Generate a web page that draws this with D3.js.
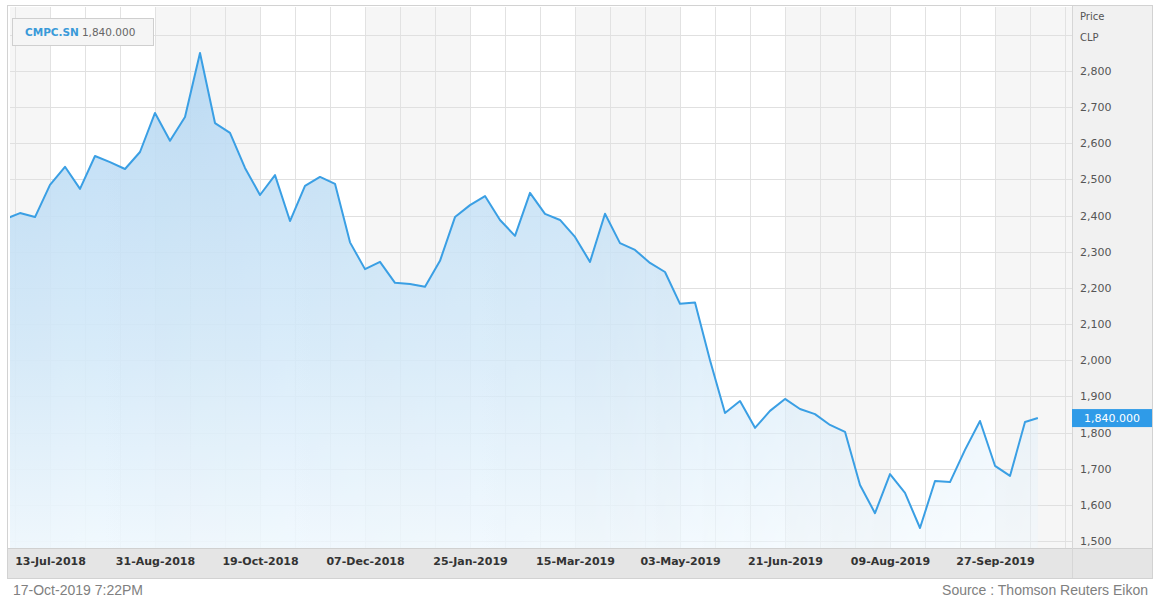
<!DOCTYPE html>
<html>
<head>
<meta charset="utf-8">
<script src="https://cdn.jsdelivr.net/npm/d3@7"></script>
<style>
  body { margin: 0; background: #fff; }
  svg { display: block; }
</style>
</head>
<body>
<svg id="chart"></svg>
<script>
// weekly closes, CMPC.SN (CLP)
const dates = [
  "2018-06-22","2018-06-29","2018-07-06","2018-07-13","2018-07-20","2018-07-27",
  "2018-08-03","2018-08-10","2018-08-17","2018-08-24","2018-08-31","2018-09-07",
  "2018-09-14","2018-09-21","2018-09-28","2018-10-05","2018-10-12","2018-10-19",
  "2018-10-26","2018-11-02","2018-11-09","2018-11-16","2018-11-23","2018-11-30",
  "2018-12-07","2018-12-14","2018-12-21","2018-12-28","2019-01-04","2019-01-11",
  "2019-01-18","2019-01-25","2019-02-01","2019-02-08","2019-02-15","2019-02-22",
  "2019-03-01","2019-03-08","2019-03-15","2019-03-22","2019-03-29","2019-04-05",
  "2019-04-12","2019-04-19","2019-04-26","2019-05-03","2019-05-10","2019-05-17",
  "2019-05-24","2019-05-31","2019-06-07","2019-06-14","2019-06-21","2019-06-28",
  "2019-07-05","2019-07-12","2019-07-19","2019-07-26","2019-08-02","2019-08-09",
  "2019-08-16","2019-08-23","2019-08-30","2019-09-06","2019-09-13","2019-09-20",
  "2019-09-27","2019-10-04","2019-10-11","2019-10-17"
];
const prices = [
  2390, 2407, 2396, 2485, 2535, 2474,
  2565, 2548, 2529, 2576, 2684, 2607,
  2673, 2850, 2656, 2629, 2532, 2457,
  2512, 2385, 2482, 2507, 2488, 2326,
  2252, 2272, 2214, 2211, 2203, 2275,
  2396, 2429, 2454, 2388, 2344, 2463,
  2405, 2388, 2341, 2272, 2405, 2324,
  2305, 2269, 2244, 2156, 2160, 2000,
  1854, 1887, 1813, 1860, 1893, 1865,
  1851, 1821, 1802, 1655, 1577, 1685,
  1633, 1536, 1666, 1663, 1752, 1832,
  1708, 1680, 1829, 1840
];
const xTickLabels = ["13-Jul-2018","31-Aug-2018","19-Oct-2018","07-Dec-2018","25-Jan-2019",
  "15-Mar-2019","03-May-2019","21-Jun-2019","09-Aug-2019","27-Sep-2019"];
const yTicks = [1500,1600,1700,1800,1900,2000,2100,2200,2300,2400,2500,2600,2700,2800];
const ticker = "CMPC.SN";
const lastPrice = 1840;

const W = 1157, H = 599;
const plot = {left: 10, right: 1072, top: 7, bottom: 548};
const DAY = 864e5;
const parse = d3.utcParse("%Y-%m-%d");
const parseTick = d3.utcParse("%d-%b-%Y");
const data = dates.map((d, i) => ({date: parse(d), value: prices[i]}));
const tickDates = xTickLabels.map(parseTick);

const svg = d3.select("#chart").attr("width", W).attr("height", H)
  .style("font-family", "'DejaVu Sans', Verdana, sans-serif");

// 15px per week, first label at x=50
const pxPerDay = 15 / 7;
const t0 = tickDates[0].getTime();
const x = d3.scaleUtc()
  .domain([new Date(t0 - (50 - plot.left) / pxPerDay * DAY), new Date(t0 + (plot.right - 50) / pxPerDay * DAY)])
  .range([plot.left, plot.right]);
const y = d3.scaleLinear().domain([1500, 2800]).range([541, 71]);

// frame
svg.append("rect").attr("x", 7.5).attr("y", 5.5).attr("width", 1145).attr("height", 573)
  .attr("fill", "#fff").attr("stroke", "#d2d2d2");

// alternating bands between labels
const step = 49 * DAY;
const bandStarts = d3.range(-1, tickDates.length + 1, 2).map(i => new Date(t0 + i * step));
svg.append("g").selectAll("rect").data(bandStarts).join("rect")
  .attr("x", d => Math.max(plot.left, x(d)))
  .attr("y", plot.top)
  .attr("width", d => Math.min(plot.right, x(new Date(d.getTime() + step))) - Math.max(plot.left, x(d)))
  .attr("height", plot.bottom - plot.top)
  .attr("fill", "#f6f6f6");

// grid
const vGrid = d3.range(-3, 3 * tickDates.length + 3).map(i => new Date(t0 + i * step / 3))
  .filter(d => x(d) > plot.left && x(d) < plot.right);
svg.append("g").selectAll("line").data(vGrid).join("line")
  .attr("x1", d => Math.round(x(d)) + 0.5).attr("x2", d => Math.round(x(d)) + 0.5)
  .attr("y1", plot.top).attr("y2", plot.bottom)
  .attr("stroke", "#e2e2e2");
const hGrid = yTicks.concat([2900]);
svg.append("g").selectAll("line").data(hGrid).join("line")
  .attr("x1", plot.left).attr("x2", plot.right)
  .attr("y1", d => Math.round(y(d)) + 0.5).attr("y2", d => Math.round(y(d)) + 0.5)
  .attr("stroke", "#e0e0e0");

// area + line
const defs = svg.append("defs");
defs.append("clipPath").attr("id", "clip").append("rect")
  .attr("x", plot.left).attr("y", plot.top)
  .attr("width", plot.right - plot.left).attr("height", plot.bottom - plot.top);
const grad = defs.append("linearGradient").attr("id", "fillGrad")
  .attr("gradientUnits", "userSpaceOnUse")
  .attr("x1", 0).attr("y1", 50).attr("x2", 0).attr("y2", plot.bottom);
grad.append("stop").attr("offset", 0).attr("stop-color", "#b3d6f2");
grad.append("stop").attr("offset", 0.6).attr("stop-color", "#d2e8f8");
grad.append("stop").attr("offset", 1).attr("stop-color", "#eef7fd");
// fade the fill toward the right edge
const fade = defs.append("linearGradient").attr("id", "fadeGrad")
  .attr("gradientUnits", "userSpaceOnUse")
  .attr("x1", plot.left).attr("y1", 0).attr("x2", plot.right).attr("y2", 0);
fade.append("stop").attr("offset", 0).attr("stop-color", "#fff");
fade.append("stop").attr("offset", 0.55).attr("stop-color", "#e0e0e0");
fade.append("stop").attr("offset", 1).attr("stop-color", "#707070");
defs.append("mask").attr("id", "fadeMask").append("rect")
  .attr("x", plot.left).attr("y", plot.top)
  .attr("width", plot.right - plot.left).attr("height", plot.bottom - plot.top)
  .attr("fill", "url(#fadeGrad)");

const g = svg.append("g").attr("clip-path", "url(#clip)");
g.append("path").datum(data)
  .attr("fill", "url(#fillGrad)").attr("fill-opacity", 0.9).attr("mask", "url(#fadeMask)")
  .attr("d", d3.area().x(d => x(d.date)).y0(plot.bottom).y1(d => y(d.value)));
g.append("path").datum(data)
  .attr("fill", "none").attr("stroke", "#3a9fe4").attr("stroke-width", 2)
  .attr("stroke-linejoin", "round")
  .attr("d", d3.line().x(d => x(d.date)).y(d => y(d.value)));

// right axis panel
svg.append("rect").attr("x", plot.right).attr("y", 6).attr("width", 1152 - plot.right).attr("height", plot.bottom - 6)
  .attr("fill", "#f1f1f1");
const yAxis = svg.append("g").attr("transform", `translate(${plot.right},0)`)
  .call(d3.axisRight(y).tickValues(yTicks).tickSize(0).tickPadding(8).tickFormat(d3.format(",")));
yAxis.select(".domain").remove();
yAxis.selectAll("text").attr("fill", "#555").style("font-size", "11px")
  .style("font-family", "'DejaVu Sans', Verdana, sans-serif");
svg.append("text").attr("x", 1080).attr("y", 20).attr("fill", "#555").style("font-size", "10px").text("Price");
svg.append("text").attr("x", 1080).attr("y", 41).attr("fill", "#555").style("font-size", "10px").text("CLP");

// bottom axis band
svg.append("rect").attr("x", 8).attr("y", plot.bottom).attr("width", 1144).attr("height", 578 - plot.bottom)
  .attr("fill", "#e5e5e5");
svg.append("line").attr("x1", 8).attr("x2", 1152).attr("y1", plot.bottom + 0.5).attr("y2", plot.bottom + 0.5)
  .attr("stroke", "#d0d0d0");
svg.append("line").attr("x1", plot.right + 0.5).attr("x2", plot.right + 0.5).attr("y1", 6).attr("y2", 578)
  .attr("stroke", "#d6d6d6");
const xAxis = svg.append("g").attr("transform", `translate(0,${plot.bottom})`)
  .call(d3.axisBottom(x).tickValues(tickDates).tickSize(0).tickPadding(9)
    .tickFormat((d, i) => xTickLabels[i]));
xAxis.select(".domain").remove();
xAxis.selectAll("text").attr("fill", "#333").style("font-size", "11px").style("font-weight", "bold")
  .style("font-family", "'DejaVu Sans', Verdana, sans-serif");

// outer frame stroke again on top
svg.append("rect").attr("x", 7.5).attr("y", 5.5).attr("width", 1145).attr("height", 573)
  .attr("fill", "none").attr("stroke", "#d2d2d2");

// last price marker
const fmt3 = d3.format(",.3f");
svg.append("rect").attr("x", plot.right).attr("y", y(lastPrice) - 9).attr("width", 1152 - plot.right).attr("height", 18)
  .attr("fill", "#2f9be8");
svg.append("text").attr("x", 1112).attr("y", y(lastPrice) + 4).attr("text-anchor", "middle")
  .attr("fill", "#fff").style("font-size", "11px").text(fmt3(lastPrice));

// legend box
const leg = svg.append("g");
leg.append("rect").attr("x", 12.5).attr("y", 18.5).attr("width", 141).attr("height", 27)
  .attr("fill", "#f5f5f5").attr("stroke", "#cfcfcf");
const lt = leg.append("text").attr("x", 25).attr("y", 36).style("font-size", "10.5px");
lt.append("tspan").attr("fill", "#3a9ad9").style("font-weight", "bold").text(ticker);
lt.append("tspan").attr("dx", 3).attr("fill", "#666").text(fmt3(lastPrice));

// footer
svg.append("text").attr("x", 13).attr("y", 595).attr("fill", "#808080")
  .style("font-family", "'Liberation Sans', Arial, sans-serif").style("font-size", "14px")
  .text("17-Oct-2019 7:22PM");
svg.append("text").attr("x", 1148).attr("y", 595).attr("text-anchor", "end").attr("fill", "#808080")
  .style("font-family", "'Liberation Sans', Arial, sans-serif").style("font-size", "14px")
  .text("Source : Thomson Reuters Eikon");
</script>
</body>
</html>
